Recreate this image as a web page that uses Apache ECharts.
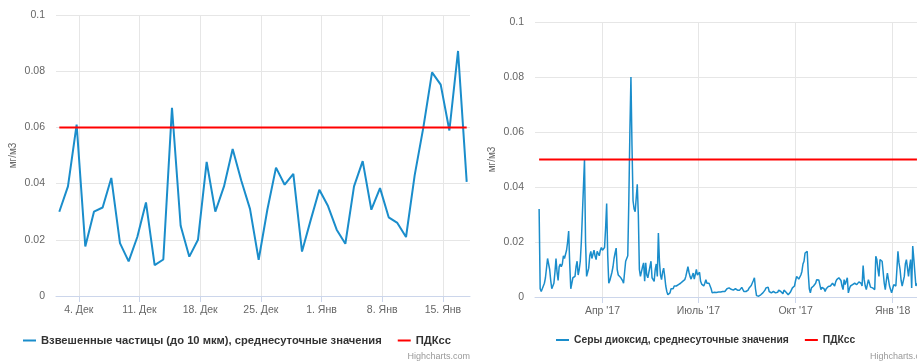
<!DOCTYPE html>
<html>
<head>
<meta charset="utf-8">
<script src="https://cdn.jsdelivr.net/npm/echarts@6/dist/echarts.min.js"></script>
<style>
  html, body { margin: 0; padding: 0; background: #fff; }
  #chart { width: 917px; height: 361px; }
</style>
</head>
<body>
<div id="chart"></div>
<script>
const DAY = 86400000

// левый график: взвешенные частицы, 2 дек 2017 – 18 янв 2018
const pmStart = Date.UTC(2017, 11, 2)
const pmValues = [
  0.030, 0.039, 0.061, 0.0176, 0.030, 0.0315, 0.042, 0.0188, 0.0123, 0.021,
  0.0333, 0.011, 0.013, 0.067, 0.025, 0.014, 0.020, 0.0477, 0.030, 0.039,
  0.0523, 0.041, 0.031, 0.0129, 0.0307, 0.0457, 0.0396, 0.0435, 0.0158, 0.027,
  0.0378, 0.032, 0.0236, 0.0186, 0.039, 0.048, 0.0307, 0.0384, 0.028, 0.026,
  0.021, 0.043, 0.060, 0.0796, 0.0752, 0.0589, 0.0872, 0.0406
]
const pmLimit = 0.06
// метки недель (в исходнике сдвинуты на несколько часов относительно точек)
const pmTicks = [
  Date.UTC(2017, 11, 4, 6), Date.UTC(2017, 11, 11, 6), Date.UTC(2017, 11, 18, 6),
  Date.UTC(2017, 11, 25, 6), Date.UTC(2018, 0, 1, 6), Date.UTC(2018, 0, 8, 6),
  Date.UTC(2018, 0, 15, 6)
]

// правый график: серы диоксид, 31 янв 2017 – 24 янв 2018
const so2Start = Date.UTC(2017, 0, 31)
const so2Values = [
  0.032, 0.003, 0.002, 0.003, 0.004, 0.005, 0.007, 0.007, 0.014, 0.012,
  0.010, 0.006, 0.003, 0.004, 0.005, 0.009, 0.014, 0.009, 0.006, 0.011,
  0.012, 0.011, 0.012, 0.015, 0.014, 0.0136, 0.017, 0.020, 0.024, 0.012,
  0.003, 0.005, 0.007, 0.007, 0.0075, 0.011, 0.013, 0.008, 0.010, 0.013,
  0.020, 0.030, 0.040, 0.050, 0.020, 0.0075, 0.009, 0.0105, 0.015, 0.0166,
  0.014, 0.0136, 0.017, 0.015, 0.0136, 0.0166, 0.016, 0.015, 0.017, 0.018,
  0.017, 0.0166, 0.018, 0.025, 0.034, 0.015, 0.005, 0.006, 0.0057, 0.009,
  0.011, 0.014, 0.016, 0.0178, 0.010, 0.008, 0.0075, 0.0072, 0.007, 0.006,
  0.005, 0.009, 0.013, 0.014, 0.015, 0.035, 0.060, 0.080, 0.055, 0.035,
  0.032, 0.031, 0.031, 0.041, 0.030, 0.010, 0.0075, 0.008, 0.011, 0.0124,
  0.0057, 0.0124, 0.008, 0.007, 0.0063, 0.011, 0.013, 0.007, 0.0065, 0.0057,
  0.010, 0.012, 0.0075, 0.0233, 0.013, 0.008, 0.0063, 0.009, 0.0105, 0.0075,
  0.004, 0.002, 0.0008, 0.0012, 0.0015, 0.003, 0.0033, 0.003, 0.004, 0.0045,
  0.004, 0.004, 0.0045, 0.0045, 0.005, 0.0055, 0.0057, 0.006, 0.0063, 0.0075,
  0.008, 0.011, 0.009, 0.0075, 0.0065, 0.007, 0.0087, 0.0065, 0.0063, 0.010,
  0.008, 0.0085, 0.009, 0.0057, 0.0047, 0.0045, 0.004, 0.005, 0.0063, 0.005,
  0.005, 0.005, 0.004, 0.003, 0.0015, 0.0017, 0.0017, 0.0017, 0.0016, 0.0015,
  0.0018, 0.002, 0.0018, 0.0017, 0.002, 0.0023, 0.002, 0.002, 0.003, 0.0032,
  0.0033, 0.0027, 0.0028, 0.003, 0.0025, 0.0026, 0.003, 0.0028, 0.0025, 0.0023,
  0.0025, 0.0027, 0.0035, 0.004, 0.002, 0.002, 0.002, 0.0015, 0.0025, 0.0033,
  0.004, 0.0042, 0.004, 0.006, 0.007, 0.003, 0.0005, 0.0004, 0.0003, 0.0006,
  0.0008, 0.0012, 0.0015, 0.002, 0.0025, 0.0033, 0.0035, 0.0036, 0.002, 0.0015,
  0.0015, 0.0017, 0.002, 0.0018, 0.0015, 0.0016, 0.0017, 0.0025, 0.003, 0.002,
  0.0015, 0.0012, 0.0025, 0.0022, 0.0017, 0.0012, 0.0008, 0.0012, 0.0017, 0.0025,
  0.0033, 0.0037, 0.004, 0.006, 0.0075, 0.007, 0.0065, 0.0063, 0.008, 0.0093,
  0.012, 0.013, 0.016, 0.0166, 0.0166, 0.0087, 0.003, 0.0015, 0.0033, 0.0038,
  0.004, 0.0033, 0.005, 0.0063, 0.0063, 0.0062, 0.006, 0.0027, 0.0035, 0.004,
  0.003, 0.002, 0.003, 0.0033, 0.0038, 0.004, 0.004, 0.0042, 0.005, 0.0045,
  0.004, 0.0055, 0.0063, 0.0068, 0.007, 0.0073, 0.006, 0.004, 0.0027, 0.0063,
  0.0045, 0.005, 0.007, 0.0015, 0.003, 0.004, 0.0042, 0.0045, 0.0048, 0.005,
  0.0047, 0.0045, 0.005, 0.0055, 0.0057, 0.005, 0.004, 0.0114, 0.0063, 0.004,
  0.0027, 0.0045, 0.0063, 0.005, 0.0036, 0.0034, 0.0033, 0.003, 0.0027, 0.0148,
  0.0136, 0.010, 0.0075, 0.0136, 0.0136, 0.013, 0.0124, 0.005, 0.0027, 0.006,
  0.0087, 0.0063, 0.004, 0.0027, 0.0015, 0.003, 0.0045, 0.0045, 0.004, 0.010,
  0.0166, 0.0124, 0.010, 0.006, 0.004, 0.004, 0.0075, 0.012, 0.0136, 0.0136,
  0.0075, 0.011, 0.0136, 0.0033, 0.0185, 0.014, 0.0136, 0.004, 0.005
]
const so2Limit = 0.05
const so2Ticks = [
  Date.UTC(2017, 3, 1), Date.UTC(2017, 6, 1), Date.UTC(2017, 9, 1), Date.UTC(2018, 0, 1)
]

const pmName = 'Взвешенные частицы (до 10 мкм), среднесуточные значения'
const so2Name = 'Серы диоксид, среднесуточные значения'
const limitName = 'ПДКсс'
const months = ['Янв', 'Фев', 'Март', 'Апр', 'Май', 'Июнь', 'Июль', 'Авг', 'Сент', 'Окт', 'Нояб', 'Дек']

const FONT = 'Liberation Sans, Arial, sans-serif'
const lineBlue = '#1a8dcb'
const gridGray = '#e6e6e6'
const axisBlue = '#ccd6eb'

const toPoints = (start, arr) => arr.map((v, i) => [start + i * DAY, v])
const limitPoints = (start, arr, lim) => [[start, lim], [start + (arr.length - 1) * DAY, lim]]

function xAxisFor(gridIndex, min, max, ticks, fmt, size) {
  return {
    type: 'value',
    gridIndex,
    min,
    max,
    axisLine: { lineStyle: { color: axisBlue, width: 1 } },
    axisTick: { show: true, length: 6, customValues: ticks, lineStyle: { color: axisBlue } },
    axisLabel: {
      customValues: ticks,
      formatter: fmt,
      color: '#666',
      fontSize: size,
      fontFamily: FONT,
      margin: 9
    },
    splitLine: { show: true, lineStyle: { color: gridGray } }
  }
}

function yAxisFor(gridIndex, nameGap, size) {
  return {
    type: 'value',
    gridIndex,
    min: 0,
    max: 0.1,
    interval: 0.02,
    name: 'мг/м3',
    nameLocation: 'middle',
    nameGap,
    nameTextStyle: { color: '#666', fontSize: 10, fontFamily: FONT },
    axisLine: { show: false },
    axisTick: { show: false },
    axisLabel: {
      color: '#666',
      fontSize: size,
      fontFamily: FONT,
      margin: 11,
      formatter: v => String(+v.toFixed(2))
    },
    splitLine: { lineStyle: { color: gridGray } }
  }
}

function legendFor(left, names, size) {
  return {
    left,
    top: 335,
    padding: 0,
    data: names,
    icon: 'rect',
    itemWidth: 13,
    itemHeight: 2,
    itemGap: 16,
    textStyle: { color: '#333', fontSize: size, fontWeight: 'bold', fontFamily: FONT }
  }
}

const chart = echarts.init(document.getElementById('chart'))

const option = {
  animation: false,
  backgroundColor: '#fff',
  grid: [
    { left: 56, top: 15, width: 414, height: 281, outerBoundsMode: 'none' },
    { left: 535, top: 22, width: 400, height: 275, outerBoundsMode: 'none' }
  ],
  xAxis: [
    xAxisFor(0, pmStart - 0.38 * DAY, pmStart + 47.38 * DAY, pmTicks, v => {
      const d = new Date(v)
      return d.getUTCDate() + '. ' + months[d.getUTCMonth()]
    }, 10.5),
    xAxisFor(1, so2Start - 3.9 * DAY, so2Start + 375.1 * DAY, so2Ticks, v => {
      const d = new Date(v)
      return months[d.getUTCMonth()] + " '" + String(d.getUTCFullYear()).slice(2)
    }, 10.5)
  ],
  yAxis: [yAxisFor(0, 38, 10.5), yAxisFor(1, 38, 10.5)],
  legend: [
    legendFor(23, [pmName, limitName], 11.2),
    legendFor(556, [so2Name, limitName], 10.3)
  ],
  graphic: [
    {
      type: 'text', right: 447, top: 352,
      style: { text: 'Highcharts.com', fill: '#999', font: '9px ' + FONT }
    },
    {
      type: 'text', left: 870, top: 352,
      style: { text: 'Highcharts.com', fill: '#999', font: '9px ' + FONT }
    }
  ],
  series: [
    {
      name: pmName,
      type: 'line',
      xAxisIndex: 0,
      yAxisIndex: 0,
      data: toPoints(pmStart, pmValues),
      showSymbol: false,
      color: lineBlue,
      lineStyle: { width: 2, color: lineBlue }
    },
    {
      name: limitName,
      type: 'line',
      xAxisIndex: 0,
      yAxisIndex: 0,
      data: limitPoints(pmStart, pmValues, pmLimit),
      showSymbol: false,
      color: '#ff0000',
      lineStyle: { width: 2, color: '#ff0000' }
    },
    {
      name: so2Name,
      type: 'line',
      xAxisIndex: 1,
      yAxisIndex: 1,
      data: toPoints(so2Start, so2Values),
      showSymbol: false,
      color: lineBlue,
      lineStyle: { width: 1.5, color: lineBlue }
    },
    {
      name: limitName,
      type: 'line',
      xAxisIndex: 1,
      yAxisIndex: 1,
      data: limitPoints(so2Start, so2Values, so2Limit),
      showSymbol: false,
      color: '#ff0000',
      lineStyle: { width: 2, color: '#ff0000' }
    }
  ]
}

chart.setOption(option)
</script>
</body>
</html>
